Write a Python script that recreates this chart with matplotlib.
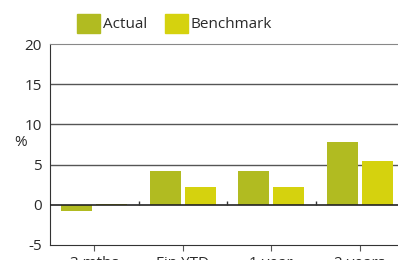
import matplotlib
matplotlib.use("Agg")
import matplotlib.pyplot as plt
import numpy as np
from matplotlib.patches import Rectangle

categories = ["3 mths", "Fin YTD", "1 year", "2 years"]
actual = [-0.8, 4.2, 4.2, 7.8]
benchmark = [0.1, 2.2, 2.2, 5.5]
series_names = ["Actual", "Benchmark"]
yticks = [-5, 0, 5, 10, 15, 20]

c_actual = "#B1BB21"
c_bench = "#D5D20E"
txt = "#2a2a2a"

plt.rcParams['font.family'] = ['Open Sans', 'DejaVu Sans']

fig = plt.figure(figsize=(3.98, 2.60), dpi=100)
ax = fig.add_axes([50/398, 15/260, 354/398, 201/260])

x = np.arange(len(categories))
w = 0.35
ax.bar(x - 0.2, actual, w, color=c_actual, zorder=3)
ax.bar(x + 0.2, benchmark, w, color=c_bench, zorder=3)

ax.set_xlim(-0.5, 3.5)
ax.set_ylim(-5, 20)
ax.set_yticks(yticks)
ax.set_yticklabels([str(v) for v in yticks], fontsize=11, color=txt)
ax.tick_params(axis='y', length=0, pad=6)
ax.set_xticks(x)
ax.set_xticklabels(categories, fontsize=11, color=txt)
ax.tick_params(axis='x', length=4, color="#555555", pad=4)

for v in [5, 10, 15]:
    ax.axhline(v, color="#555555", lw=1.0, zorder=1)
ax.axhline(0, color="#222222", lw=1.2, zorder=4)
ax.vlines([0.5, 1.5, 2.5], 0, 0.5, color="#333333", lw=1.0, zorder=4)

for s in ['right']:
    ax.spines[s].set_visible(False)
ax.spines['top'].set_color("#888888")
ax.spines['left'].set_color("#333333")
ax.spines['bottom'].set_color("#333333")

fig.text(14/398, 1 - 143/260, "%", fontsize=11, color=txt, ha='left', va='center')

# legend
for (x0, name, col) in [(77, series_names[0], c_actual), (165, series_names[1], c_bench)]:
    fig.patches.append(Rectangle((x0/398, 1 - 33/260), 23/398, 19/260,
                                 transform=fig.transFigure, color=col, figure=fig))
    fig.text((x0 + 26)/398, 1 - 24/260, name, fontsize=11, color=txt, ha='left', va='center')

fig.savefig("out.png", dpi=100)
